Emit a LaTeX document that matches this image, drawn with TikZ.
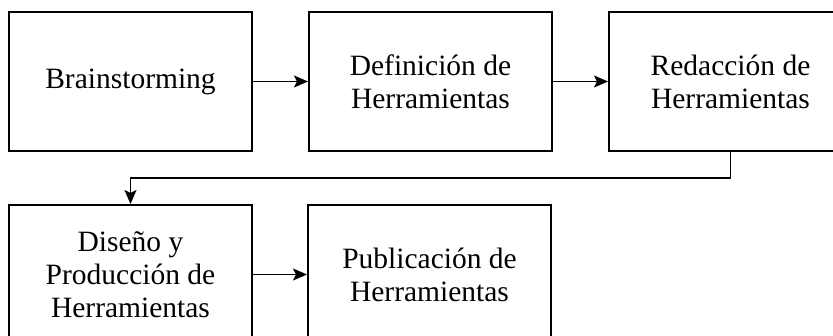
\documentclass[tikz,border=0pt]{standalone}
\usepackage{fontspec}
\setmainfont{Liberation Serif}
\usepackage{tikz}
\usetikzlibrary{arrows.meta, positioning}

\begin{document}
\begin{tikzpicture}[font=\fontsize{29.5}{33}\selectfont]
    \tikzstyle{stage} = [rectangle, minimum width=243pt, minimum height=139pt, text centered, align=center, draw=black, line width=2pt]
    \tikzstyle{flow} = [-{Stealth[length=14pt, width=12pt, inset=3pt]}, line width=1.4pt, black]

    \useasboundingbox (-130.5pt, 81.5pt) rectangle (702.5pt, -254.5pt);

    \node (brain) [stage] {Brainstorming};
    \node (defin) [stage, right=55pt of brain] {Definición de\\Herramientas};
    \node (redac) [stage, right=55pt of defin] {Redacción de\\Herramientas};
    \node (disen) [stage, below=52pt of brain] {Diseño y\\Producción de\\Herramientas};
    \node (publi) [stage, right=54pt of disen] {Publicación de\\Herramientas};

    \draw [flow] (brain.east) -- (defin.west);
    \draw [flow] (defin.east) -- (redac.west);
    \draw [flow] (redac.south) -- ++(0,-26pt) -| (disen.north);
    \draw [flow] (disen.east) -- (publi.west);
\end{tikzpicture}
\end{document}
